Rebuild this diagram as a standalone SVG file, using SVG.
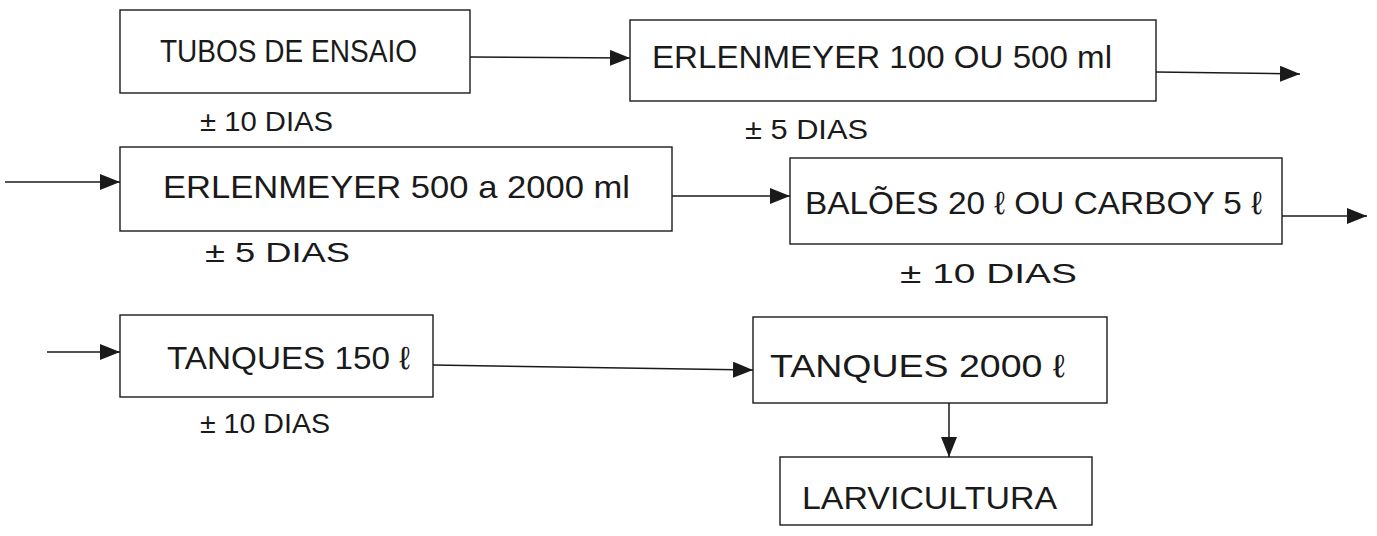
<svg xmlns="http://www.w3.org/2000/svg" width="1377" height="536" viewBox="0 0 1377 536">
<defs>
<marker id="arr" viewBox="0 0 10 10" refX="10" refY="5" markerUnits="userSpaceOnUse" markerWidth="20" markerHeight="16" orient="auto" preserveAspectRatio="none">
<path d="M0,0 L10,5 L0,10 z" fill="#1a1a1a"/>
</marker>
<style>
.box{fill:#fff;stroke:#1a1a1a;stroke-width:1.4}
.lbl{font-family:"Liberation Sans",Arial,sans-serif;font-size:32px;fill:#1a1a1a}
.dur{font-family:"Liberation Sans",Arial,sans-serif;font-size:28px;fill:#1a1a1a}
.con{fill:none;stroke:#1a1a1a;stroke-width:1.5;marker-end:url(#arr)}
</style>
</defs>
<rect width="1377" height="536" fill="#fff"/>
<g id="connectors">
<path class="con" d="M470,57 L630,58"/>
<path class="con" d="M1156,72 L1300,74"/>
<path class="con" d="M5,182 L120,182"/>
<path class="con" d="M672,196 L790,196"/>
<path class="con" d="M1282,216 L1367,216"/>
<path class="con" d="M47,352 L120,352"/>
<path class="con" d="M433,365 L753,370"/>
<path class="con" d="M949,403 L949,457"/>
</g>
<g id="tubos">
<rect class="box" x="120" y="10" width="350" height="83"/>
<text class="lbl" x="160" y="62" textLength="257" lengthAdjust="spacingAndGlyphs">TUBOS DE ENSAIO</text>
<text class="dur" x="200" y="131" textLength="133" lengthAdjust="spacingAndGlyphs">± 10 DIAS</text>
</g>
<g id="erlenmeyer100">
<rect class="box" x="630" y="20" width="526" height="81"/>
<text class="lbl" x="652" y="68" textLength="460" lengthAdjust="spacingAndGlyphs">ERLENMEYER 100 OU 500 ml</text>
<text class="dur" x="745" y="139" textLength="123" lengthAdjust="spacingAndGlyphs">± 5 DIAS</text>
</g>
<g id="erlenmeyer500">
<rect class="box" x="120" y="147" width="552" height="84"/>
<text class="lbl" x="163" y="198" textLength="467" lengthAdjust="spacingAndGlyphs">ERLENMEYER 500 a 2000 ml</text>
<text class="dur" x="205" y="262" textLength="145" lengthAdjust="spacingAndGlyphs">± 5 DIAS</text>
</g>
<g id="baloes">
<rect class="box" x="790" y="158" width="492" height="86"/>
<text class="lbl" x="805" y="214" textLength="457" lengthAdjust="spacingAndGlyphs">BALÕES 20 ℓ OU CARBOY 5 ℓ</text>
<text class="dur" x="900" y="283" textLength="177" lengthAdjust="spacingAndGlyphs">± 10 DIAS</text>
</g>
<g id="tanques150">
<rect class="box" x="120" y="315" width="313" height="82"/>
<text class="lbl" x="167" y="369" textLength="243" lengthAdjust="spacingAndGlyphs">TANQUES 150 ℓ</text>
<text class="dur" x="200" y="433" textLength="130" lengthAdjust="spacingAndGlyphs">± 10 DIAS</text>
</g>
<g id="tanques2000">
<rect class="box" x="753" y="317" width="354" height="86"/>
<text class="lbl" x="770" y="377" textLength="295" lengthAdjust="spacingAndGlyphs">TANQUES 2000 ℓ</text>
</g>
<g id="larvicultura">
<rect class="box" x="780" y="457" width="312" height="68"/>
<text class="lbl" x="802" y="509" textLength="255" lengthAdjust="spacingAndGlyphs">LARVICULTURA</text>
</g>
</svg>
